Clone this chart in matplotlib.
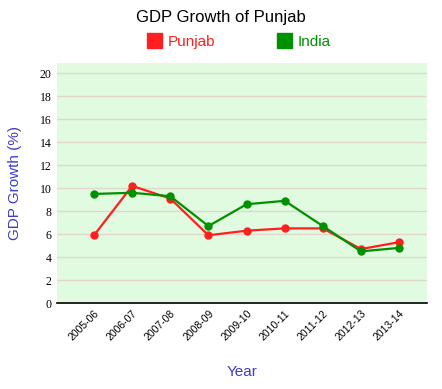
import matplotlib.pyplot as plt
from matplotlib.patches import Rectangle

years = ["2005-06", "2006-07", "2007-08", "2008-09", "2009-10",
         "2010-11", "2011-12", "2012-13", "2013-14"]
punjab = [5.9, 10.2, 9.1, 5.9, 6.3, 6.5, 6.5, 4.7, 5.3]
india = [9.5, 9.6, 9.3, 6.7, 8.6, 8.9, 6.7, 4.5, 4.8]
yticks = list(range(0, 21, 2))

RED = "#ff1f1f"
GREEN = "#009100"

fig = plt.figure(figsize=(4.42, 3.89), dpi=100)
ax = fig.add_axes([0.129, 0.221, 0.837, 0.617])
ax.set_facecolor("#e0fbe0")

x = list(range(len(years)))
ax.plot(x, punjab, color=RED, lw=1.6, marker="o", ms=5, zorder=3)
ax.plot(x, india, color=GREEN, lw=1.6, marker="o", ms=5, zorder=3)

ax.set_xlim(-0.97, 8.73)
ax.set_ylim(0, 20.9)
ax.set_yticks(yticks)
ax.set_yticklabels([str(t) for t in yticks], family="Liberation Serif", fontsize=8.5)
ax.set_xticks(x)
ax.set_xticklabels(years, rotation=45, ha="right", rotation_mode="anchor",
                   fontsize=7.5, family="Liberation Sans")
ax.tick_params(length=0, pad=4)
ax.grid(axis="y", color="#e2d6cc", lw=1)
ax.set_axisbelow(True)
for s in ["top", "right", "left"]:
    ax.spines[s].set_visible(False)
ax.spines["bottom"].set_color("black")
ax.spines["bottom"].set_linewidth(1.2)

ax.set_ylabel("GDP Growth (%)", color="#3d3dc8", fontsize=11, family="Liberation Sans", labelpad=13)
ax.set_xlabel("Year", color="#3d3dc8", fontsize=11, family="Liberation Sans", labelpad=16)

fig.text(0.5, 0.955, "GDP Growth of Punjab", ha="center", va="center",
         fontsize=12, family="Liberation Sans")

# legend
for px, label, c in [(147, "Punjab", RED), (277, "India", GREEN)]:
    fig.patches.append(Rectangle((px / 442, 1 - 48 / 389), 15 / 442, 15 / 389,
                                 transform=fig.transFigure, color=c, figure=fig))
    fig.text((px + 21) / 442, 1 - 42 / 389, label, color=c, fontsize=11,
             family="Liberation Sans", va="center", ha="left")

fig.savefig("out.png", dpi=100)
